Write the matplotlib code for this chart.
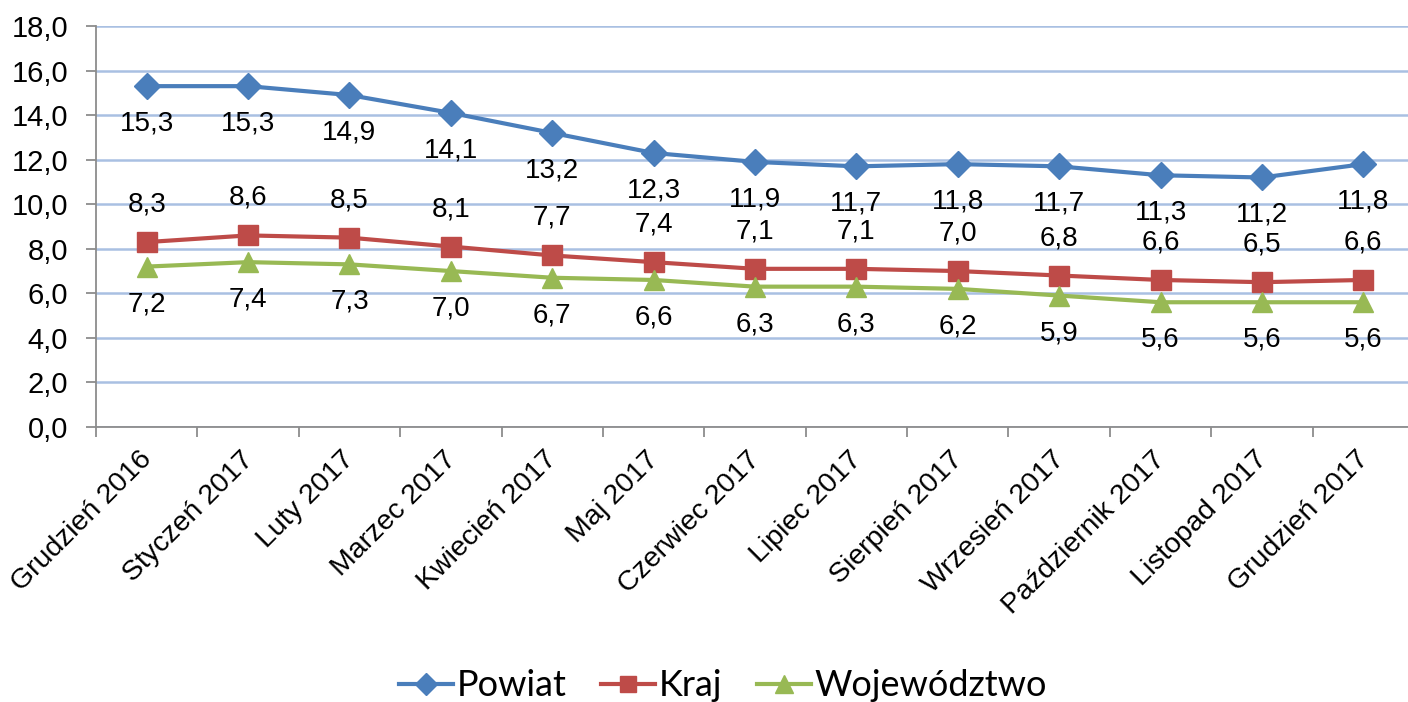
import matplotlib
matplotlib.use("Agg")
import matplotlib.pyplot as plt
from matplotlib.ticker import MultipleLocator, FixedLocator, FuncFormatter

categories = ["Grudzień 2016", "Styczeń 2017", "Luty 2017", "Marzec 2017", "Kwiecień 2017",
              "Maj 2017", "Czerwiec 2017", "Lipiec 2017", "Sierpień 2017", "Wrzesień 2017",
              "Październik 2017", "Listopad 2017", "Grudzień 2017"]
powiat = [15.3, 15.3, 14.9, 14.1, 13.2, 12.3, 11.9, 11.7, 11.8, 11.7, 11.3, 11.2, 11.8]
kraj = [8.3, 8.6, 8.5, 8.1, 7.7, 7.4, 7.1, 7.1, 7.0, 6.8, 6.6, 6.5, 6.6]
wojewodztwo = [7.2, 7.4, 7.3, 7.0, 6.7, 6.6, 6.3, 6.3, 6.2, 5.9, 5.6, 5.6, 5.6]

plt.rcParams['font.family'] = ['Liberation Sans', 'DejaVu Sans']

fig = plt.figure(figsize=(14.08, 7.02), dpi=100)
W, H = 1408, 702
ax = fig.add_axes([96 / W, 1 - 427 / H, (1414 - 96) / W, (427 - 26) / H])

x = list(range(len(categories)))
series = [
    ("Powiat", powiat, "#4a7ebb", "D", 13.5, -1),
    ("Kraj", kraj, "#be4b48", "s", 14, 1),
    ("Województwo", wojewodztwo, "#98b954", "^", 15, -1),
]
for name, vals, col, mk, ms, side in series:
    ax.plot(x, vals, color=col, lw=3, marker=mk, markersize=ms, label=name,
            markeredgecolor=col, zorder=3, solid_joinstyle='round')
    for xi, v in zip(x, vals):
        ax.annotate(f"{v:.1f}".replace(".", ","), (xi, v), xytext=(0, side * 27),
                    textcoords="offset points", ha="center", va="center",
                    fontsize=20, color="black", zorder=4)

ax.set_xlim(-0.5, len(categories) - 0.5)
ax.set_ylim(0, 18)
ax.yaxis.set_major_locator(MultipleLocator(2))
ax.yaxis.set_major_formatter(FuncFormatter(lambda v, p: f"{v:.1f}".replace(".", ",")))
ax.grid(axis="y", color="#a9c0e2", lw=1.8, zorder=0)
ax.set_axisbelow(True)

# category boundary ticks (major) and label anchors (minor, nudged slightly left)
ax.xaxis.set_major_locator(FixedLocator([i - 0.5 for i in range(len(categories) + 1)]))
ax.xaxis.set_major_formatter(FuncFormatter(lambda v, p: ""))
ax.xaxis.set_minor_locator(FixedLocator([i - 0.08 for i in x]))
ax.set_xticklabels(categories, minor=True, rotation=45, ha="right", va="top",
                   rotation_mode="anchor", fontsize=20.5)
ax.tick_params(axis="x", which="minor", length=0, pad=14)
ax.tick_params(axis="x", which="major", length=7, color="#8c8c8c", width=1.3)
ax.tick_params(axis="y", length=7, color="#8c8c8c", width=1.3, labelsize=21, pad=13)

for s in ["top", "right"]:
    ax.spines[s].set_visible(False)
for s in ["left", "bottom"]:
    ax.spines[s].set_color("#8c8c8c")
    ax.spines[s].set_linewidth(1.3)

leg = fig.legend(loc="center", bbox_to_anchor=(723 / W, 1 - 686 / H), ncol=3, frameon=False,
                 handlelength=1.5, handletextpad=0.1, columnspacing=0.95, markerscale=0.85,
                 prop={'family': ['Lato', 'DejaVu Sans'], 'size': 26})

fig.savefig("out.png", dpi=100)
